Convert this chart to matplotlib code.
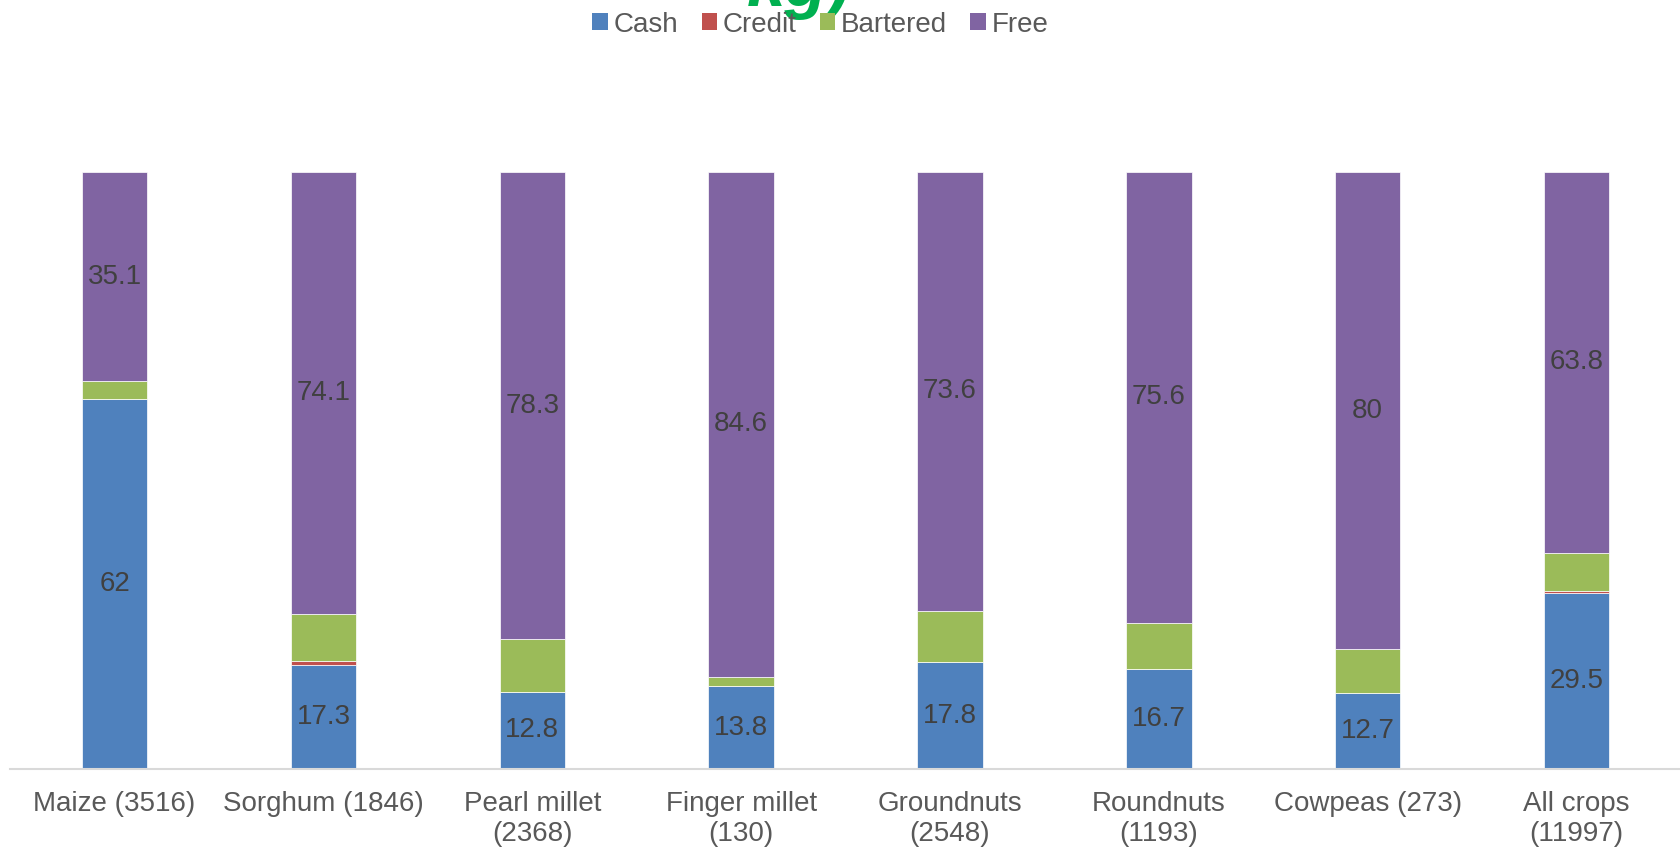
import numpy as np
import matplotlib.pyplot as plt
from matplotlib.patches import Patch

plt.rcParams['font.family'] = ['Liberation Sans', 'DejaVu Sans']

# share of seed acquired by each mode (%), per crop (number of observations)
crops = ["Maize (3516)", "Sorghum (1846)", "Pearl millet\n(2368)", "Finger millet\n(130)",
         "Groundnuts\n(2548)", "Roundnuts\n(1193)", "Cowpeas (273)", "All crops\n(11997)"]
cash = [62, 17.3, 12.8, 13.8, 17.8, 16.7, 12.7, 29.5]
credit = [0, 0.7, 0, 0, 0, 0, 0, 0.2]
bartered = [2.9, 7.9, 8.9, 1.6, 8.6, 7.7, 7.3, 6.5]
free = [35.1, 74.1, 78.3, 84.6, 73.6, 75.6, 80, 63.8]

series = [("Cash", cash, "#4F81BD"), ("Credit", credit, "#C0504D"),
          ("Bartered", bartered, "#9BBB59"), ("Free", free, "#8064A2")]
labelled = {"Cash", "Free"}

fig = plt.figure(figsize=(16.81, 8.49), dpi=100)
ax = fig.add_axes([0.006, 0.0946, 0.994, 0.703])

x = np.arange(len(crops))
bottom = np.zeros(len(crops))
for name, vals, color in series:
    vals = np.array(vals, dtype=float)
    ax.bar(x, vals, 0.313, bottom=bottom, color=color, edgecolor="white", linewidth=0.5)
    if name in labelled:
        for xi, b, v in zip(x, bottom, vals):
            ax.text(xi, b + v / 2, f"{v:g}", ha="center", va="center",
                    fontsize=20, color="#404040")
    bottom += vals

ax.set_xlim(-0.5, len(crops) - 0.5)
ax.set_ylim(0, 100)
ax.set_xticks(x)
ax.set_xticklabels(crops, fontsize=20, color="#595959", linespacing=1.22)
ax.tick_params(axis="x", length=0, pad=16)
ax.set_yticks([])
for side in ["top", "right", "left"]:
    ax.spines[side].set_visible(False)
ax.spines["bottom"].set_color("#D9D9D9")
ax.spines["bottom"].set_linewidth(1.5)

handles = [Patch(facecolor=c, edgecolor="none") for _, _, c in series]
leg = fig.legend(handles, [n for n, _, _ in series], loc="center", ncol=4,
                 bbox_to_anchor=(0.488, 0.971), frameon=False, fontsize=20,
                 handlelength=0.55, handleheight=0.55, handletextpad=0.2,
                 columnspacing=0.85, labelcolor="#595959")

# end of the chart title, running off the top edge
fig.text(0.475, 1 - 6 / 849, "kg)", ha="center", va="baseline", fontsize=50,
         fontweight="bold", fontstyle="italic", color="#00B050")

fig.savefig("out.png", dpi=100)
